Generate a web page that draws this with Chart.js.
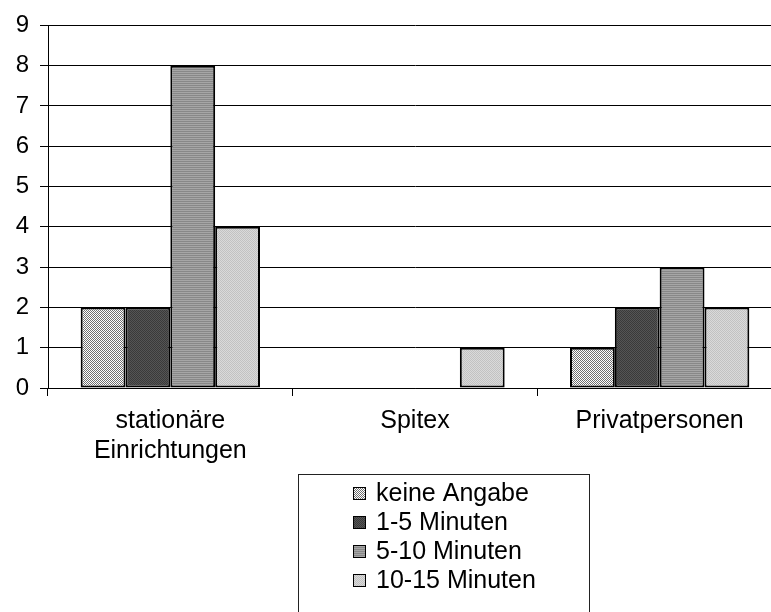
<!DOCTYPE html>
<html>
<head>
<meta charset="utf-8">
<script src="https://cdn.jsdelivr.net/npm/chart.js@4"></script>
<style>
  html, body { margin: 0; padding: 0; overflow: hidden; background: #fff; }
</style>
</head>
<body>
<canvas id="myChart" width="782" height="612"></canvas>
<script>
// chart data
const categories = [['stationäre', 'Einrichtungen'], 'Spitex', 'Privatpersonen'];
const seriesNames = ['keine Angabe', '1-5 Minuten', '5-10 Minuten', '10-15 Minuten'];
const keineAngabe = [2, 0, 1];
const min1bis5 = [2, 0, 2];
const min5bis10 = [8, 0, 3];
const min10bis15 = [4, 1, 2];
const yMax = 9;

const ctx = document.getElementById('myChart').getContext('2d');
const FONT = "'Liberation Sans', Arial, sans-serif";

// little bitmap patterns like the old office fills
function makePattern(size, paint) {
  const c = document.createElement('canvas');
  c.width = size; c.height = size;
  const g = c.getContext('2d');
  paint(g);
  return ctx.createPattern(c, 'repeat');
}
const fills = [
  makePattern(4, g => {  // fine diagonal checker, mostly white
    g.fillStyle = '#fff'; g.fillRect(0, 0, 4, 4);
    g.fillStyle = '#707070';
    for (let i = 0; i < 4; i++) { g.fillRect(i, i, 1, 1); g.fillRect((i + 2) % 4, i, 1, 1); }
  }),
  makePattern(2, g => {  // dark dotted
    g.fillStyle = '#555'; g.fillRect(0, 0, 2, 2);
    g.fillStyle = '#3a3a3a'; g.fillRect(0, 0, 1, 1); g.fillRect(1, 1, 1, 1);
  }),
  makePattern(2, g => {  // horizontal lines
    g.fillStyle = '#a6a6a6'; g.fillRect(0, 0, 2, 2);
    g.fillStyle = '#888'; g.fillRect(0, 1, 2, 1);
  }),
  makePattern(2, g => {  // light dotted
    g.fillStyle = '#dadada'; g.fillRect(0, 0, 2, 2);
    g.fillStyle = '#c2c2c2'; g.fillRect(0, 0, 1, 1); g.fillRect(1, 1, 1, 1);
  })
];

// boxed legend, one entry per row, below the axis labels
const boxLegend = {
  id: 'boxLegend',
  afterDraw(chart) {
    const c = chart.ctx;
    const box = { left: 298, top: 474, right: 589, bottom: 640 };
    c.save();
    c.strokeStyle = '#222';
    c.lineWidth = 1;
    c.strokeRect(box.left + 0.5, box.top + 0.5, box.right - box.left, box.bottom - box.top);
    c.font = '25px ' + FONT;
    c.textBaseline = 'middle';
    chart.data.datasets.forEach((ds, i) => {
      const y = 493 + i * 29;
      c.fillStyle = ds.backgroundColor;
      c.fillRect(353, y - 6, 13, 13);
      c.strokeStyle = '#000';
      c.strokeRect(353.5, y - 5.5, 12, 12);
      c.fillStyle = '#000';
      c.fillText(ds.label, 376, y + 1);
    });
    c.restore();
  }
};

const seriesData = [keineAngabe, min1bis5, min5bis10, min10bis15];

new Chart(ctx, {
  type: 'bar',
  data: {
    labels: categories,
    datasets: seriesNames.map((name, i) => ({
      label: name,
      data: seriesData[i],
      backgroundColor: fills[i],
      borderColor: '#000',
      borderWidth: 2,
      borderSkipped: false,
      barPercentage: 1,
      categoryPercentage: 0.733
    }))
  },
  options: {
    responsive: false,
    animation: false,
    layout: { padding: { top: 21, right: 0, left: 0, bottom: 0 } },
    plugins: { legend: { display: false }, tooltip: { enabled: false } },
    scales: {
      x: {
        afterFit: s => { s.height = 224; },
        grid: { offset: true, drawOnChartArea: false, drawTicks: true, tickLength: 8, color: '#000' },
        border: { color: '#000', width: 1 },
        ticks: { color: '#000', padding: 10, maxRotation: 0, autoSkip: false,
                 font: { family: FONT, size: 25, lineHeight: 1.2 } }
      },
      y: {
        min: 0,
        max: yMax,
        afterFit: s => { s.width = 48; },
        grid: { color: '#000', tickLength: 8 },
        border: { color: '#000', width: 1 },
        ticks: { stepSize: 1, color: '#000', padding: 11, font: { family: FONT, size: 24 } }
      }
    }
  },
  plugins: [boxLegend]
});
</script>
</body>
</html>
